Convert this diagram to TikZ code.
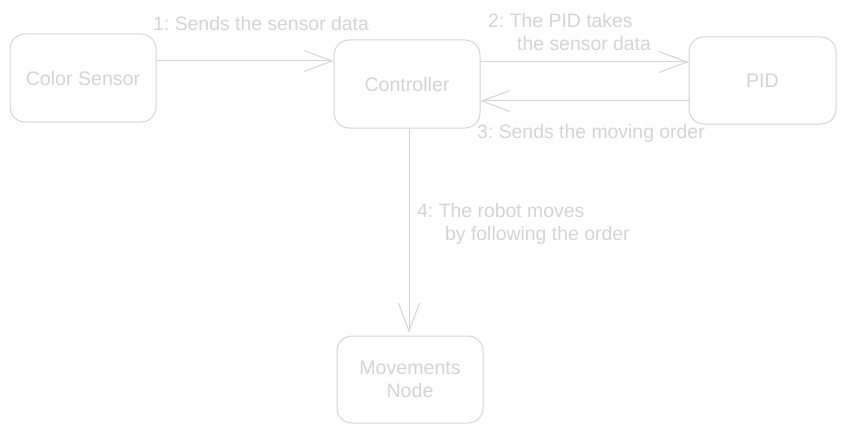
\documentclass[tikz,border=0pt]{standalone}
\usepackage{fontspec}
\setmainfont{Liberation Sans}
\usetikzlibrary{arrows.meta}
\definecolor{lg}{RGB}{212,212,212}
\frenchspacing
\tikzset{
  box/.style={draw=lg, line width=1pt, rounded corners=15pt, minimum width=146pt, minimum height=88pt, inner sep=0pt, text=lg, align=center, font=\fontsize{19.6}{23}\selectfont},
  lbl/.style={text=lg, inner sep=0pt, align=left, font=\fontsize{19.4}{23.5}\selectfont},
  arr/.style={draw=lg, line width=1pt, -{Straight Barb[length=28pt, width=21pt, line width=1pt]}}
}
\begin{document}
\begin{tikzpicture}[x=1pt, y=-1pt]
\useasboundingbox (0,0) rectangle (845,433);
\node[box] (cs) at (83,78) {Color Sensor};
\node[box] (ctrl) at (407,84) {Controller};
\node[box, minimum width=147pt, minimum height=87pt] (pid) at (762.5,80.5) {PID};
\node[box, minimum height=87pt] (mov) at (410,379.5) {Movements\\Node};

\draw[arr] (cs.east |- 0,61) -- (ctrl.west |- 0,61);
\draw[arr] (ctrl.east |- 0,62) -- (pid.west |- 0,62);
\draw[arr] (pid.west |- 0,101) -- (ctrl.east |- 0,101);
\draw[arr, shorten >=3pt] (ctrl.south -| 409,0) -- (mov.north -| 409,0);

\node[lbl, anchor=west] (l1) at (153,24) {1: Sends the sensor data};
\node[lbl, anchor=west] (l2) at (488,32) {2: The PID takes\\\hspace*{29pt}the sensor data};
\node[lbl, anchor=west] (l3) at (477,133) {3: Sends the moving order};
\node[lbl, anchor=west] (l4) at (417,224) {4: The robot moves\\\hspace*{28pt}by following the order};
\end{tikzpicture}
\end{document}
